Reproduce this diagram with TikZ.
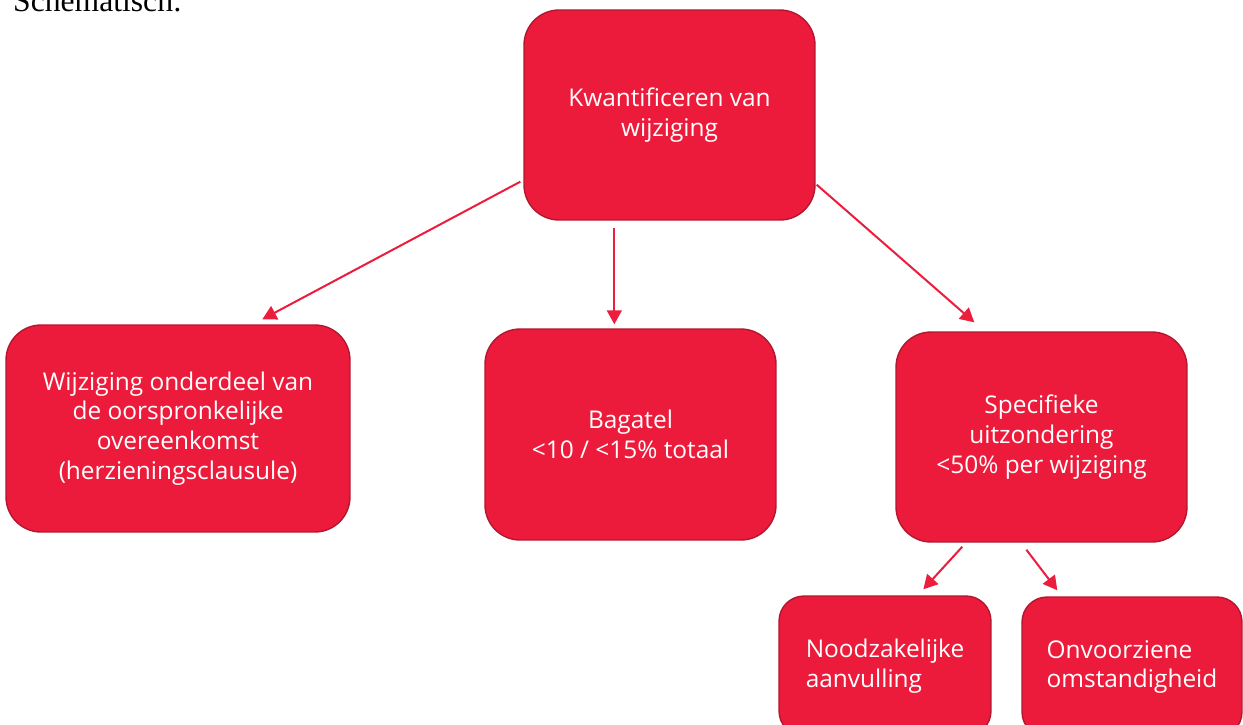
\documentclass[tikz,border=0pt]{standalone}
\usepackage{fontspec}
\setmainfont{Liberation Serif}
\setsansfont{Open Sans}
\usetikzlibrary{arrows.meta,calc,positioning}
\definecolor{boxred}{RGB}{237,27,59}
\definecolor{boxedge}{RGB}{178,22,48}
\definecolor{arrowred}{RGB}{236,30,62}
\tikzset{every picture/.style={/utils/exec={\sffamily}}}
\tikzset{block/.style={rectangle,rounded corners=0.7cm,fill=boxred,draw=boxedge,line width=0.8pt,text=white,align=center,font=\sffamily\fontsize{13.9}{17}\selectfont,minimum width=5.82cm,minimum height=4.2cm}}
\tikzset{small block/.style={block,rounded corners=0.5cm,align=left,minimum height=2.8cm}}
\tikzset{link/.style={-{Triangle[length=8pt,width=8.5pt]},arrowred,line width=1.15pt}}

\begin{document}
\begin{tikzpicture}[x=0.02cm,y=-0.02cm]
    \useasboundingbox (0,0) rectangle (1243,724);
    \node [anchor=base west,font=\rmfamily\fontsize{18}{21}\selectfont] (title) at (7,11) {Schematisch:};
    \node [block] (kw) at (669.5,115) {Kwantificeren van\\wijziging};
    \node [block,minimum width=6.88cm,minimum height=4.14cm] (onderdeel) at (178,428.5) {Wijziging onderdeel van\\de oorspronkelijke\\overeenkomst\\(herzieningsclausule)};
    \node [block,minimum height=4.22cm] (bagatel) at (630.5,434.5) {Bagatel\\<10 / <15\% totaal};
    \node [block] (uitz) at (1041.5,437) {Specifieke\\uitzondering\\<50\% per wijziging};
    \node [small block,minimum width=4.24cm] (nood) at (885,666) {Noodzakelijke\\aanvulling};
    \node [small block,minimum width=4.4cm] (onv) at (1132,667) {Onvoorziene\\omstandigheid};
    \draw [link] ($(kw.south west)+(-3,-39)$) -- ($(onderdeel.north west)+(257,-5)$);
    \draw [link] ($(kw.south west)+(91,7)$) -- ($(bagatel.north west)+(130,-4)$);
    \draw [link] ($(kw.south east)+(1,-36)$) -- ($(uitz.north west)+(79,-9)$);
    \draw [link] ($(uitz.south west)+(67,4)$) -- ($(nood.north west)+(145,-6)$);
    \draw [link] ($(uitz.south west)+(131,7)$) -- ($(onv.north west)+(36,-6)$);
\end{tikzpicture}
\end{document}
